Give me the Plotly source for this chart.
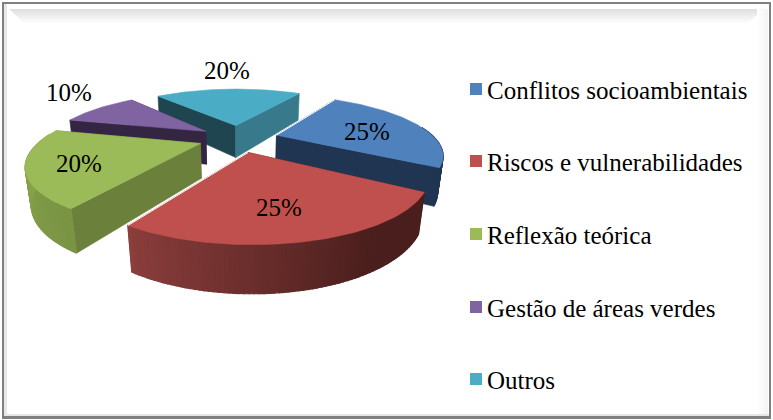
import numpy as np
import plotly.graph_objects as go

categories = ["Conflitos socioambientais", "Riscos e vulnerabilidades", "Reflexão teórica", "Gestão de áreas verdes", "Outros"]
values = [25, 25, 20, 10, 20]
labels = ["25%", "25%", "20%", "10%", "20%"]

top_colors = ["#4F81BD", "#C0504D", "#9BBB59", "#8064A2", "#4BACC6"]
start_wall = ["#1F3552", "#4A1F1D", "#6B803A", "#342643", "#1F4650"]
end_wall = ["#1F3552", "#8B3E3C", "#6B803A", "#342643", "#387A8C"]
rim_from = ["#1F3552", "#4A1F1D", "#7A9444", "#342643", "#387A8C"]
rim_to = ["#1F3552", "#8B3E3C", "#8FAC50", "#342643", "#387A8C"]
rim_hold = [0, 0.3, 0, 0, 0]
label_xy = [(367, 131), (279, 207), (79, 163), (69, 92), (227, 70)]
legend_y = [90, 162, 235, 308, 380]
draw_order = [4, 3, 0, 2, 1]

# projection of the pie
CX, CY, F, D, EL, H, EXPL, PHI = 238.36, 138.22, 500.46, 3.1655, 0.3476, 0.2344, 0.252, 0.5572


def proj(X, Y, Z=0.0):
    d = D + Y * np.cos(EL) - Z * np.sin(EL)
    return CX + F * X / d, CY - F * (Y * np.sin(EL) + Z * np.cos(EL)) / d


def hex2rgb(h):
    return np.array([int(h[i:i + 2], 16) for i in (1, 3, 5)], float)


def mix(a, b, t):
    c = hex2rgb(a) * (1 - t) + hex2rgb(b) * t
    return "rgb(%d,%d,%d)" % tuple(c)


def poly(xs, ys, color, width=0.6):
    return go.Scatter(x=list(xs), y=list(ys), mode="lines", fill="toself", fillcolor=color,
                      line=dict(color=color, width=width), hoverinfo="skip", showlegend=False)


traces = []
total = sum(values)
cum = np.cumsum([0] + values)
for i in draw_order:
    s = PHI + cum[i] / total * 2 * np.pi
    e = PHI + cum[i + 1] / total * 2 * np.pi
    m = (s + e) / 2
    c = (EXPL * np.sin(m), EXPL * np.cos(m))
    th = np.linspace(s, e, int(values[i] * 3) + 1)
    rx, ry = c[0] + np.sin(th), c[1] + np.cos(th)
    # radial walls
    for ang, col in ((s, start_wall[i]), (e, end_wall[i])):
        ex, ey = c[0] + np.sin(ang), c[1] + np.cos(ang)
        a = proj(c[0], c[1]); b = proj(ex, ey)
        a2 = proj(c[0], c[1], -H); b2 = proj(ex, ey, -H)
        traces.append(poly([a[0], b[0], b2[0], a2[0], a[0]], [a[1], b[1], b2[1], a2[1], a[1]], col))
    # outer wall, shaded along the arc
    n = len(th) - 1
    for k in range(n):
        if np.cos((th[k] + th[k + 1]) / 2) > 0.15:
            continue
        p1 = proj(rx[k], ry[k]); p2 = proj(rx[k + 1], ry[k + 1])
        p3 = proj(rx[k + 1], ry[k + 1], -H); p4 = proj(rx[k], ry[k], -H)
        t = k / max(n - 1, 1)
        t = max(0.0, (t - rim_hold[i]) / (1 - rim_hold[i]))
        col = mix(rim_from[i], rim_to[i], t)
        traces.append(poly([p1[0], p2[0], p3[0], p4[0], p1[0]], [p1[1], p2[1], p3[1], p4[1], p1[1]], col, 1.2))
    # top face
    tx, ty = proj(rx, ry)
    o = proj(c[0], c[1])
    traces.append(poly([o[0], *tx, o[0]], [o[1], *ty, o[1]], top_colors[i]))
    # thin highlight where the slice passes in front of its neighbour
    if i in (0, 1):
        ang = s if i == 0 else e
        b = proj(c[0] + np.sin(ang), c[1] + np.cos(ang))
        traces.append(go.Scatter(x=[o[0], b[0]], y=[o[1], b[1]], mode="lines",
                                 line=dict(color="white", width=1), hoverinfo="skip", showlegend=False))

# legend squares
traces.append(go.Scatter(x=[476] * len(categories), y=[v - 1 for v in legend_y], mode="markers",
                         marker=dict(symbol="square", size=12, color=top_colors, line=dict(width=0)),
                         hoverinfo="skip", showlegend=False))

fig = go.Figure(traces)

ann = []
for (x, y), t in zip(label_xy, labels):
    ann.append(dict(x=x, y=y, text=t, showarrow=False, xanchor="center", yanchor="middle",
                    font=dict(family="Liberation Serif", size=25, color="black")))
for y, t in zip(legend_y, categories):
    ann.append(dict(x=485, y=y, text=t, showarrow=False, xanchor="left", yanchor="middle",
                    font=dict(family="Liberation Serif", size=25, color="black")))

shapes = []
def rect(x0, y0, x1, y1, col):
    shapes.append(dict(type="rect", xref="x", yref="y", x0=x0, y0=y0, x1=x1, y1=y1,
                       fillcolor=col, line=dict(width=0), layer="below"))

# bevelled frame
for k in range(15):
    v = int(224 + (255 - 224) * k / 14)
    rect(10 + k, 9 + k, 762 - k, 10 + k, "rgb(%d,%d,%d)" % (v, v, v))
for k in range(11):
    v = int(255 - 11 * k / 10)
    rect(757 + k, 9, 758 + k, 415, "rgb(%d,%d,%d)" % (v, v, v))
rect(4, 4, 7, 417, "#E8E8E8")
rect(4, 414, 769, 416, "#E6E6E6")
rect(2, 2, 4, 419, "#808080")
rect(2, 2, 771, 4, "#808080")
rect(769, 2, 771, 419, "#808080")
rect(2, 416, 771, 419, "#808080")

fig.update_layout(width=773, height=420, margin=dict(l=0, r=0, t=0, b=0),
                  paper_bgcolor="white", plot_bgcolor="white", showlegend=False,
                  xaxis=dict(range=[0, 773], visible=False, fixedrange=True),
                  yaxis=dict(range=[420, 0], visible=False, fixedrange=True),
                  annotations=ann, shapes=shapes)
fig.write_html("out.html", config={"displayModeBar": False},
               post_script="document.body.style.margin='0';document.body.style.overflow='hidden';")
